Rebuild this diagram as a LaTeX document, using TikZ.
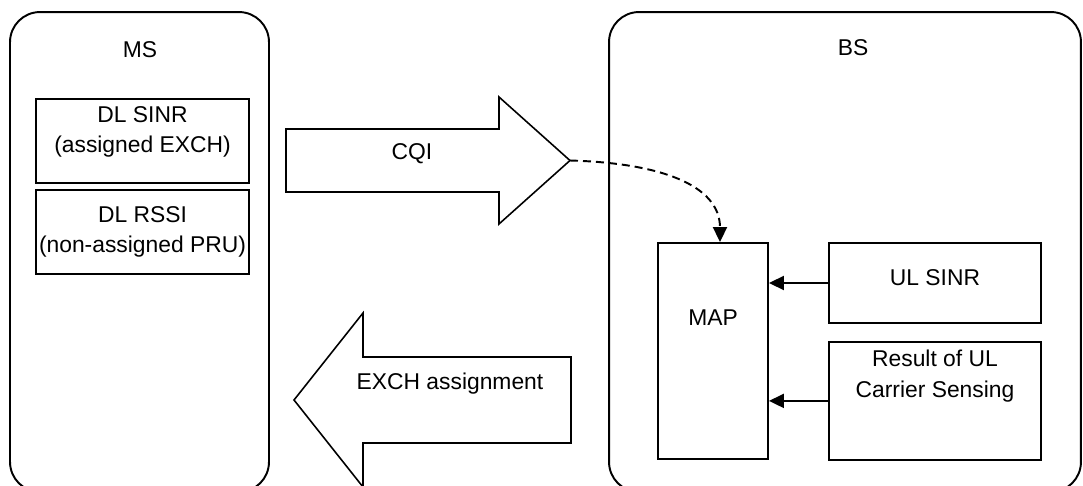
\documentclass[tikz,border=0pt]{standalone}
\usepackage{fontspec}
\setmainfont{Liberation Sans}
\usetikzlibrary{positioning,arrows.meta}

\newcommand{\boxfont}{\fontsize{13}{17.6}\selectfont}

\begin{document}
\begin{tikzpicture}[
    x=0.02cm, y=-0.02cm,
    entity/.style={rectangle, draw, line width=1.1pt, rounded corners=0.6cm, minimum height=9.6cm},
    unit/.style={rectangle, draw, line width=1.1pt, align=center, font=\boxfont, inner sep=0pt},
    plain/.style={font=\boxfont, inner sep=0pt},
    blockarrow/.style={draw, line width=0.9pt, line join=miter},
    feed/.style={-{Triangle[length=0.3cm,width=0.28cm]}, line width=1.1pt},
    report/.style={feed, dash pattern=on 0.16cm off 0.1cm},
]
\useasboundingbox (0,0) rectangle (1083,486);

% the two stations
\node[entity, minimum width=5.18cm] (ms) at (139.5,252) {};
\node[entity, minimum width=9.44cm] (bs) at (845,252) {};
\node[plain] (mslbl) at (140,50) {MS};
\node[plain] (bslbl) at (853,48) {BS};

% MS side measurements
\node[unit, minimum width=4.26cm, minimum height=1.68cm, text depth=0.46cm] (dlsinr) at (142.5,141) {DL SINR\\(assigned EXCH)};
\node[unit, minimum width=4.26cm, minimum height=1.68cm, below=0.1cm of dlsinr] (dlrssi) {DL RSSI\\(non-assigned PRU)};

% BS side
\node[unit, minimum width=2.2cm, minimum height=4.32cm, text depth=1.32cm] (map) at (713,351) {MAP};
\node[unit, minimum width=4.24cm, minimum height=1.6cm, text depth=0.2cm] (ulsinr) at (935,283) {UL SINR};
\node[unit, minimum width=4.24cm, minimum height=2.36cm, text depth=1.1cm, below=0.34cm of ulsinr] (ulcs) {Result of UL\\Carrier Sensing};

% block arrows between the stations
\draw[blockarrow] (286,129) -- (499,129) -- (499,97) -- (570,160.5) -- (499,224) -- (499,192) -- (286,192) -- cycle;
\coordinate (cqitip) at (570,160.5);
\node[plain] (cqi) at (412,154) {CQI};

\draw[blockarrow] (571,357) -- (363,357) -- (363,313) -- (294,400) -- (363,487) -- (363,443) -- (571,443) -- cycle;
\node[plain] (exch) at (450,384) {EXCH assignment};

% connectors
\draw[report] (cqitip) .. controls (660,163) and (720,185) .. ([xshift=0.14cm]map.north);
\draw[feed] (ulsinr.west) -- (ulsinr.west -| map.east);
\draw[feed] (ulcs.west) -- (ulcs.west -| map.east);
\end{tikzpicture}
\end{document}
